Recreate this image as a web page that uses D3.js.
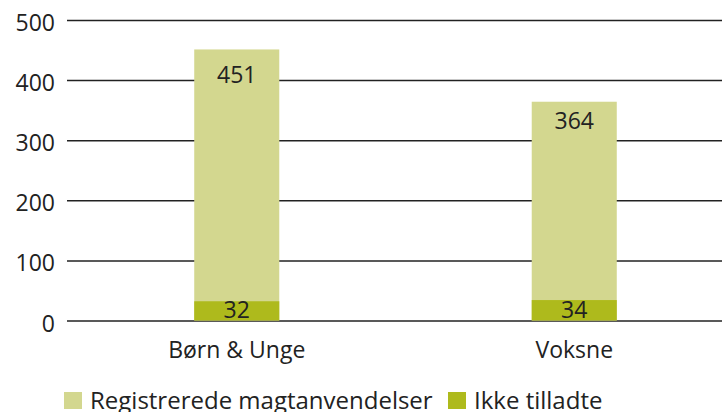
<!DOCTYPE html>
<html>
<head>
<meta charset="utf-8">
<script src="https://cdn.jsdelivr.net/npm/d3@7"></script>
<style>
  body { margin: 0; background: #fff; }
  text { font-family: "Open Sans", "Noto Sans", sans-serif; fill: #222; }
</style>
</head>
<body>
<div id="chart"></div>
<script>
var categories = ["Børn & Unge", "Voksne"];
var registered = [451, 364];
var notAllowed = [32, 34];
var yTicks = [0, 100, 200, 300, 400, 500];
var seriesNames = ["Registrerede magtanvendelser", "Ikke tilladte"];
var colors = ["#d3d78f", "#aeba1c"];

var width = 722, height = 412;
var fontSize = 23;

var svg = d3.select("#chart").append("svg")
    .attr("width", width)
    .attr("height", height);

// scales
var y = d3.scaleLinear().domain([0, 500]).range([320.5, 20]);
var x = d3.scaleBand()
    .domain(categories)
    .range([68, 743])
    .paddingInner(0.748)
    .paddingOuter(0.374);

// gridlines + tick labels
var yAxis = d3.axisLeft(y)
    .tickValues(yTicks)
    .tickSize(-(width - 67))
    .tickPadding(12);

var yG = svg.append("g")
    .attr("transform", "translate(67,0)")
    .call(yAxis);
yG.select(".domain").remove();
yG.selectAll(".tick line").attr("stroke", "#222").attr("stroke-width", 1.5);
yG.selectAll(".tick text")
    .attr("font-size", fontSize)
    .attr("fill", "#222")
    .attr("dy", 10.5)
    .style("font-family", "'Open Sans', 'Noto Sans', sans-serif");

var data = categories.map(function (c, i) {
    return { cat: c, reg: registered[i], no: notAllowed[i] };
});

// big bars
svg.selectAll("rect.reg")
    .data(data)
    .enter().append("rect")
    .attr("class", "reg")
    .attr("x", function (d) { return x(d.cat); })
    .attr("width", x.bandwidth())
    .attr("y", function (d) { return y(d.reg); })
    .attr("height", function (d) { return y(0) - y(d.reg); })
    .attr("fill", colors[0]);

// small bars drawn over the big ones
svg.selectAll("rect.no")
    .data(data)
    .enter().append("rect")
    .attr("class", "no")
    .attr("x", function (d) { return x(d.cat); })
    .attr("width", x.bandwidth())
    .attr("y", function (d) { return y(d.no); })
    .attr("height", function (d) { return y(0) - y(d.no); })
    .attr("fill", colors[1]);

// value labels
svg.selectAll("text.regLab")
    .data(data)
    .enter().append("text")
    .attr("x", function (d) { return x(d.cat) + x.bandwidth() / 2; })
    .attr("y", function (d) { return y(d.reg * 0.875); })
    .attr("text-anchor", "middle")
    .attr("font-size", fontSize)
    .text(function (d) { return d.reg; });

svg.selectAll("text.noLab")
    .data(data)
    .enter().append("text")
    .attr("x", function (d) { return x(d.cat) + x.bandwidth() / 2; })
    .attr("y", y(0) - 3)
    .attr("text-anchor", "middle")
    .attr("font-size", fontSize)
    .text(function (d) { return d.no; });

// category labels
svg.selectAll("text.cat")
    .data(categories)
    .enter().append("text")
    .attr("x", function (d) { return x(d) + x.bandwidth() / 2; })
    .attr("y", 358)
    .attr("text-anchor", "middle")
    .attr("font-size", fontSize)
    .text(function (d) { return d; });

// legend
var legX = [64, 448];
var leg = svg.selectAll("g.leg")
    .data(seriesNames)
    .enter().append("g")
    .attr("transform", function (d, i) { return "translate(" + legX[i] + ",392)"; });
leg.append("rect")
    .attr("width", 18).attr("height", 17)
    .attr("fill", function (d, i) { return colors[i]; });
leg.append("text")
    .attr("x", 26).attr("y", 17)
    .attr("font-size", 24)
    .text(function (d) { return d; });
</script>
</body>
</html>
